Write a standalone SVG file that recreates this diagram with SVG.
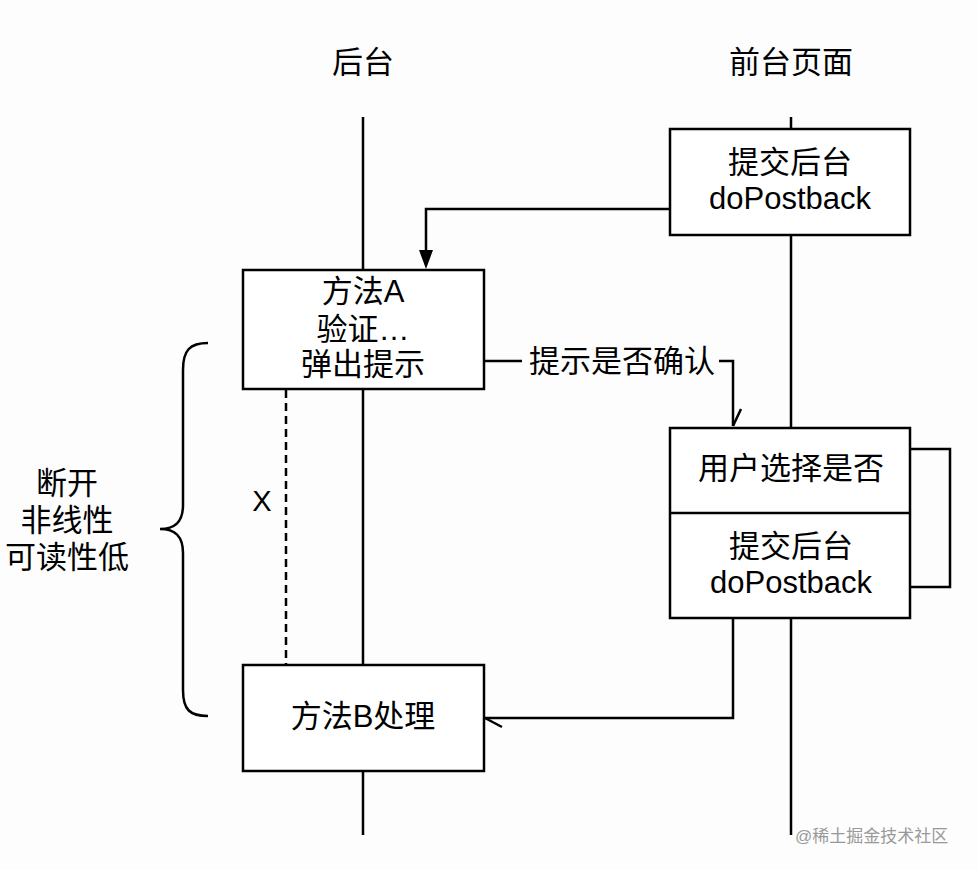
<svg xmlns="http://www.w3.org/2000/svg" width="978" height="870" viewBox="0 0 978 870">
<style>
.ln{stroke:#000;stroke-width:2.5;fill:none}
.box{fill:#fff;stroke:#000;stroke-width:2.5}
.t{font-family:"Liberation Sans","Noto Sans CJK SC",sans-serif;font-size:31px;fill:#000;text-anchor:middle}
.wm{font-family:"Liberation Sans","Noto Sans CJK SC",sans-serif;font-size:17px;fill:#999}
</style>
<rect width="978" height="870" fill="#fdfdfe"/>
<g id="lifelines">
<line class="ln" x1="363" y1="117" x2="363" y2="835"/>
<line class="ln" x1="791" y1="117" x2="791" y2="835"/>
</g>
<g id="headers">
<text class="t" x="363" y="73">后台</text>
<text class="t" x="791" y="73">前台页面</text>
</g>
<g id="connectors">
<path class="ln" d="M670,209 H426 V252"/>
<path d="M419,250 L433,250 L426,269 Z" fill="#000"/>
<path class="ln" d="M484,361 H522"/>
<path class="ln" d="M719,361 H733 V426"/>
<path class="ln" d="M733,426 L741,409"/>
<path class="ln" d="M910,449 H950 V587 H910"/>
<path class="ln" d="M733,618 V718 H485"/>
<path class="ln" d="M485,718 L502,727"/>
<line class="ln" x1="286" y1="390" x2="286" y2="670" stroke-dasharray="8,5" stroke-width="2"/>
<text class="t" x="262" y="511" style="font-size:29px">X</text>
</g>
<g id="node-submit1">
<rect class="box" x="670" y="129" width="240" height="106"/>
<text class="t" x="790" y="173">提交后台</text>
<text class="t" x="790" y="209">doPostback</text>
</g>
<g id="node-methodA">
<rect class="box" x="243" y="270" width="241" height="119"/>
<text class="t" x="363" y="302">方法A</text>
<text class="t" x="363" y="340">验证…</text>
<text class="t" x="363" y="375">弹出提示</text>
</g>
<g id="label-confirm">
<text class="t" x="622" y="372">提示是否确认</text>
</g>
<g id="node-user">
<rect class="box" x="670" y="428" width="240" height="190"/>
<line class="ln" x1="670" y1="513" x2="910" y2="513"/>
<text class="t" x="791" y="479">用户选择是否</text>
<text class="t" x="791" y="557">提交后台</text>
<text class="t" x="791" y="593">doPostback</text>
</g>
<g id="node-methodB">
<rect class="box" x="243" y="665" width="241" height="106"/>
<text class="t" x="363" y="727">方法B处理</text>
</g>
<g id="brace">
<path class="ln" d="M208,343 C190,343 183,350 183,370 L183,505 C183,522 175,529 160,529 C175,529 183,536 183,553 L183,690 C183,710 190,716 208,716"/>
<text class="t" x="67" y="494">断开</text>
<text class="t" x="67" y="531">非线性</text>
<text class="t" x="67" y="568">可读性低</text>
</g>
<text class="wm" x="795" y="842">@稀土掘金技术社区</text>
</svg>
